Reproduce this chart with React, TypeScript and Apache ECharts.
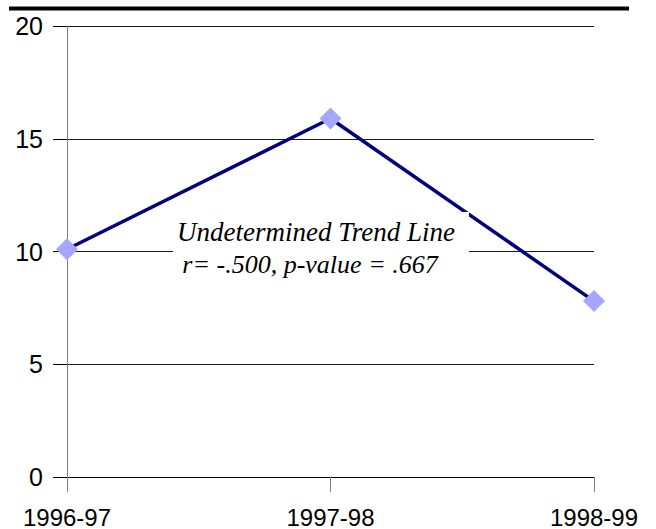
import React, { useEffect, useRef } from "react";
import * as echarts from "echarts";

const categories = ["1996-97", "1997-98", "1998-99"];
const values = [10.1, 15.9, 7.8];
const yTicks = { min: 0, max: 20, interval: 5 };
const annotationLines = ["Undetermined Trend Line", "r= -.500, p-value = .667"];

export default function App() {
  const ref = useRef<HTMLDivElement>(null);
  useEffect(() => {
    if (!ref.current) return;
    const chart = echarts.init(ref.current, undefined, { renderer: "svg" });
    chart.setOption({
      animation: false,
      backgroundColor: "#ffffff",
      grid: { left: 67, right: 62, top: 26, bottom: 51, containLabel: false },
      xAxis: {
        type: "category",
        data: categories,
        boundaryGap: false,
        axisLine: { show: true, lineStyle: { color: "#000000", width: 1 } },
        axisTick: { show: true, length: 15, lineStyle: { color: "#808080" } },
        axisLabel: {
          margin: 28,
          color: "#000000",
          fontFamily: "Liberation Sans, Arial, sans-serif",
          fontSize: 24,
        },
        splitLine: { show: false },
      },
      yAxis: {
        type: "value",
        min: yTicks.min,
        max: yTicks.max,
        interval: yTicks.interval,
        axisLine: { show: true, lineStyle: { color: "#808080", width: 1 } },
        axisTick: { show: true, length: 14, lineStyle: { color: "#000000" } },
        axisLabel: {
          margin: 24,
          color: "#000000",
          fontFamily: "Liberation Sans, Arial, sans-serif",
          fontSize: 25,
        },
        splitLine: { show: true, lineStyle: { color: "#1a1a1a", width: 1 } },
      },
      series: [
        {
          type: "line",
          data: values,
          symbol: "diamond",
          symbolSize: 22,
          lineStyle: { color: "#000080", width: 3.5 },
          itemStyle: { color: "#a6a6ff" },
          z: 3,
        },
      ],
      graphic: [
        {
          type: "line",
          shape: { x1: 9, y1: 8.5, x2: 629, y2: 8.5 },
          style: { stroke: "#000000", lineWidth: 4 },
          z: 100,
        },
        {
          type: "rect",
          shape: { x: 173, y: 212, width: 296, height: 72 },
          style: { fill: "#ffffff" },
          z: 100,
        },
        {
          type: "text",
          x: 316,
          y: 232,
          style: {
            text: annotationLines[0],
            fill: "#000000",
            font: "italic 27px 'Liberation Serif', 'Times New Roman', serif",
            align: "center",
            verticalAlign: "middle",
          },
          z: 101,
        },
        {
          type: "text",
          x: 310,
          y: 264,
          style: {
            text: annotationLines[1],
            fill: "#000000",
            font: "italic 26px 'Liberation Serif', 'Times New Roman', serif",
            align: "center",
            verticalAlign: "middle",
          },
          z: 101,
        },
      ],
    });
    return () => chart.dispose();
  }, []);
  return (
    <div
      ref={ref}
      style={{ position: "absolute", left: 0, top: 0, width: 656, height: 529 }}
    />
  );
}
